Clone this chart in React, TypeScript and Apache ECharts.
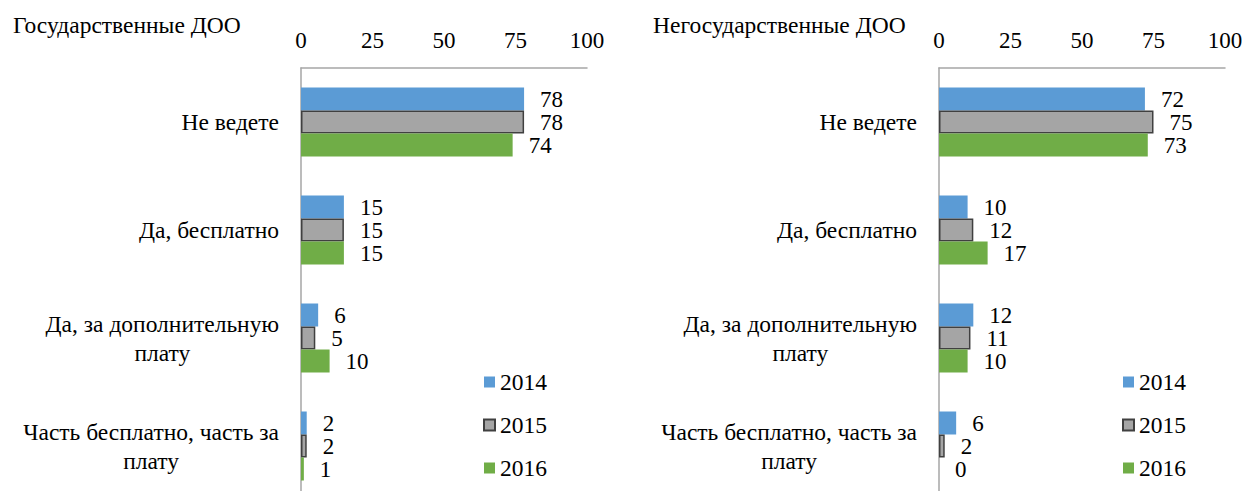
import React, { useEffect, useRef } from "react";
import * as echarts from "echarts";

const categories = [
  "Не ведете",
  "Да, бесплатно",
  "Да, за дополнительную\nплату",
  "Часть бесплатно, часть за\nплату",
];
const years = ["2014", "2015", "2016"];
const gov2014 = [78, 15, 6, 2];
const gov2015 = [78, 15, 5, 2];
const gov2016 = [74, 15, 10, 1];
const priv2014 = [72, 10, 12, 6];
const priv2015 = [75, 12, 11, 2];
const priv2016 = [73, 17, 10, 0];
const xTicks = { min: 0, max: 100, interval: 25 };
const titles = ["Государственные ДОО", "Негосударственные ДОО"];

const FONT_TICK = "serif";
const FONT_VAL = "Liberation Serif";
const FONT_CAT = "Times New Roman";
const FONT_LEG = "Times New Roman";
const FONT_TITLE = "Liberation Serif";
const FS_NUM = 23;
const FS_TXT = 23.5;
const colors = ["#5B9BD5", "#A5A5A5", "#70AD47"];

export default function App() {
  const ref = useRef<HTMLDivElement>(null);
  useEffect(() => {
    document.body.style.margin = "0";
    if (!ref.current) return;
    const chart = echarts.init(ref.current, undefined, { renderer: "svg" });
    const grids = [
      { left: 301, top: 68, width: 286, height: 432, outerBoundsMode: "none" },
      { left: 939, top: 68, width: 286, height: 432, outerBoundsMode: "none" },
    ];
    const xAxis = grids.map((_, i) => ({
      type: "value",
      gridIndex: i,
      position: "top",
      min: xTicks.min,
      max: xTicks.max,
      interval: xTicks.interval,
      axisLine: { show: true, lineStyle: { color: "#A6A6A6", width: 1.5 } },
      axisTick: { show: false },
      splitLine: { show: false },
      axisLabel: { color: "#000", fontSize: FS_NUM, fontFamily: FONT_TICK, margin: 16 },
    }));
    const yAxis = grids.map((_, i) => ({
      type: "category",
      gridIndex: i,
      data: categories,
      inverse: true,
      axisLine: { show: true, lineStyle: { color: "#A6A6A6", width: 1.5 } },
      axisTick: { show: false },
      axisLabel: {
        margin: 22,
        color: "#000",
        fontSize: FS_TXT,
        fontFamily: FONT_CAT,
        formatter: (v: string) =>
          v
            .split("\n")
            .map((l) => `{c|${l}}`)
            .join("\n"),
        rich: {
          c: {
            align: "center",
            fontSize: FS_TXT,
            fontFamily: FONT_CAT,
            color: "#000",
            lineHeight: 29,
          },
        },
      },
    }));
    const mk = (name: string, data: number[], idx: number, ci: number) => ({
      type: "bar",
      name,
      xAxisIndex: idx,
      yAxisIndex: idx,
      data,
      barWidth: 23,
      barGap: "0%",
      itemStyle:
        ci === 1
          ? { color: colors[ci], borderColor: "#404040", borderWidth: 1.5 }
          : { color: colors[ci] },
      label: {
        show: true,
        position: "right",
        distance: 16,
        color: "#000",
        fontSize: FS_NUM,
        fontFamily: FONT_VAL,
      },
    });
    const series = [
      mk(years[0], gov2014, 0, 0),
      mk(years[1], gov2015, 0, 1),
      mk(years[2], gov2016, 0, 2),
      mk(years[0], priv2014, 1, 0),
      mk(years[1], priv2015, 1, 1),
      mk(years[2], priv2016, 1, 2),
    ];
    const legendBase = {
      orient: "vertical",
      data: years,
      icon: "rect",
      itemWidth: 11,
      itemHeight: 11,
      itemGap: 19,
      textStyle: { color: "#000", fontSize: FS_TXT, fontFamily: FONT_LEG },
      selectedMode: false,
    };
    const titleStyle = {
      fontSize: FS_TXT,
      fontWeight: "normal",
      color: "#000",
      fontFamily: FONT_TITLE,
    };
    chart.setOption({
      animation: false,
      backgroundColor: "#fff",
      title: [
        { text: titles[0], left: 8, top: 8, textStyle: titleStyle },
        { text: titles[1], left: 648, top: 8, textStyle: titleStyle },
      ],
      grid: grids,
      xAxis,
      yAxis,
      legend: [
        { ...legendBase, left: 478, top: 365 },
        { ...legendBase, left: 1117, top: 365 },
      ],
      series,
    });
    return () => chart.dispose();
  }, []);
  return <div ref={ref} style={{ width: 1251, height: 491 }} />;
}
